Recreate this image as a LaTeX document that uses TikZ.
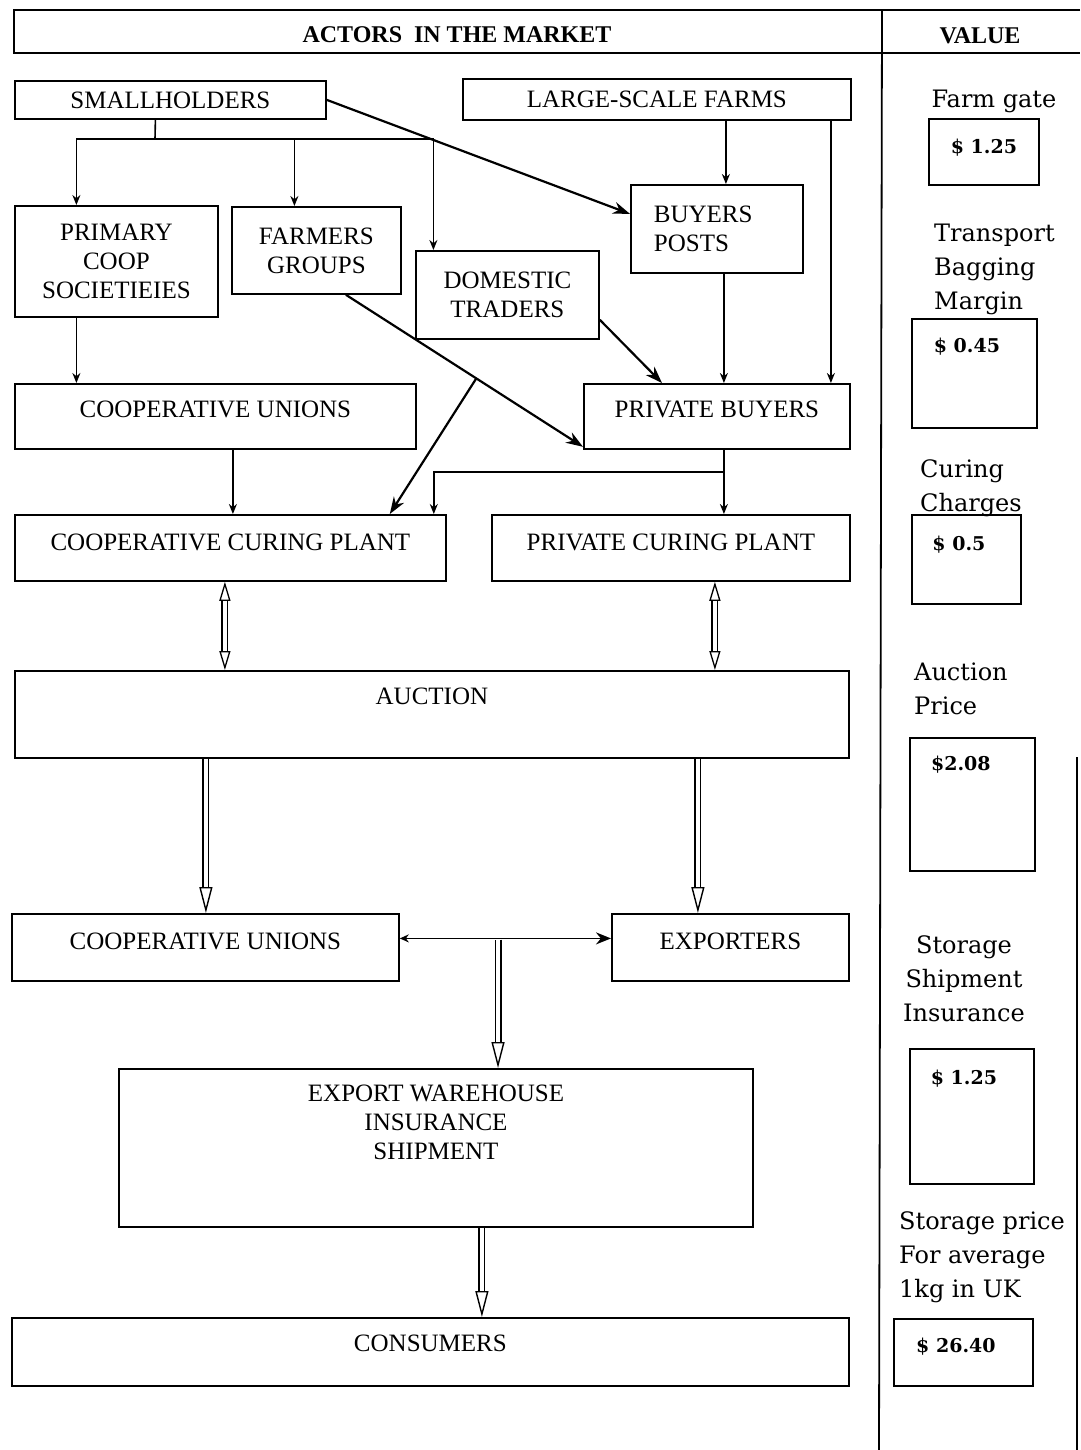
\documentclass[tikz,border=0pt]{standalone}
\usepackage{fontspec}
\setmainfont{Liberation Serif}
\newfontfamily\valfont{DejaVu Serif}
\usetikzlibrary{arrows.meta,positioning}

% hollow arrows drawn as a double shaft plus an open head
\newcommand{\fatarrow}[2]{%
  \draw[shaft] (#1) -- ([yshift=25pt]#1 |- #2);
  \draw[fathead] ([yshift=26pt]#1 |- #2) -- (#1 |- #2);}
\newcommand{\fatboth}[2]{%
  \draw[shaft] ([yshift=-18pt]#1) -- ([yshift=18pt]#1 |- #2);
  \draw[smallhead] ([yshift=-19pt]#1) -- (#1);
  \draw[smallhead] ([yshift=19pt]#1 |- #2) -- (#1 |- #2);}

\begin{document}
\begin{tikzpicture}[x=1pt, y=-1pt,
    actor/.style = {draw, rectangle, line width=1.8pt, anchor=north west, inner sep=0pt, font=\fontsize{25}{29}\selectfont},
    valbox/.style = {draw, rectangle, line width=1.8pt, anchor=north west, inner sep=0pt, font=\valfont\bfseries\fontsize{19}{22}\selectfont},
    vlabel/.style = {inner sep=0pt, font=\valfont\fontsize{24}{34}\selectfont},
    head/.style = {inner sep=0pt, font=\bfseries\fontsize{24}{28}\selectfont},
    frame/.style = {line width=1.8pt},
    line/.style = {line width=1.6pt},
    arrow/.style = {line width=1.6pt, -{Stealth[length=10pt, width=8pt]}},
    bold/.style = {line width=2.2pt, -{Stealth[length=17pt, width=12pt]}},
    twoway/.style = {line width=1.8pt, {Stealth[length=9pt, width=8pt]}-{Stealth[length=15pt, width=12pt]}},
    shaft/.style = {double, double distance=4pt, line width=1.5pt},
    fathead/.style = {line width=1.4pt, -{Triangle[open, length=26pt, width=13pt]}},
    smallhead/.style = {line width=1.3pt, -{Triangle[open, length=19pt, width=11pt]}}
]
\useasboundingbox (0,0) rectangle (1080,1450);

% Table frame
\draw[frame] (1080,10) -| (14,53) -- (1080,53);
\draw[frame] (882,10) -- (879,1450);
\draw[frame] (1077,757) -- (1077,1450);
\node[head] (hdract) at (457,35) {ACTORS~~IN THE MARKET};
\node[head] (hdrval) at (980,36) {VALUE};

% Nodes
\node[actor, minimum width=311pt, minimum height=38pt] (small) at (14,80) {SMALLHOLDERS};
\node[actor, minimum width=388pt, minimum height=41pt] (large) at (462,78) {LARGE-SCALE FARMS};
\node[actor, align=center, minimum width=203pt, minimum height=111pt] (primary) at (14,205) {PRIMARY\\COOP\\SOCIETIEIES};
\node[actor, align=center, minimum width=169pt, minimum height=87pt] (groups) at (231,206) {FARMERS\\GROUPS};
\node[actor, align=center, minimum width=183pt, minimum height=88pt] (traders) at (415,250) {DOMESTIC\\TRADERS};
\node[actor, align=left, text width=126pt, minimum width=172pt, minimum height=88pt] (posts) at (630,184) {BUYERS\\POSTS};
\node[actor, minimum width=401pt, text height=33.3pt, text depth=31.7pt] (unions) at (14,383) {COOPERATIVE UNIONS};
\node[actor, minimum width=266pt, text height=33.3pt, text depth=31.7pt] (pbuyers) at (583,383) {PRIVATE BUYERS};
\node[actor, minimum width=431pt, text height=35.3pt, text depth=30.7pt] (coopplant) at (14,514) {COOPERATIVE CURING PLANT};
\node[actor, minimum width=358pt, text height=35.3pt, text depth=30.7pt] (privplant) at (491,514) {PRIVATE CURING PLANT};
\node[actor, minimum width=834pt, text height=33.3pt, text depth=53.7pt] (auction) at (14,670) {AUCTION};
\node[actor, minimum width=387pt, text height=35.3pt, text depth=31.7pt] (unions2) at (11,913) {COOPERATIVE UNIONS};
\node[actor, minimum width=237pt, text height=35.3pt, text depth=31.7pt] (exporters) at (611,913) {EXPORTERS};
\node[actor, minimum width=634pt, minimum height=158pt] (warehouse) at (118,1068) {};
\node[actor, draw=none, align=center, anchor=center] (warehousetxt) at (436,1122) {EXPORT WAREHOUSE\\INSURANCE\\SHIPMENT};
\node[actor, minimum width=837pt, text height=33.3pt, text depth=34.7pt] (consumers) at (11,1317) {CONSUMERS};

% Value column
\node[vlabel] (farmgate) at (994,101) {Farm gate};
\node[valbox, minimum width=110pt, text height=35pt, text depth=31pt] (val1) at (928,118) {\$ 1.25};
\node[vlabel, anchor=west, align=left] (transport) at (934,269) {Transport\\Bagging\\Margin};
\node[valbox, minimum width=125pt, text height=34pt, text depth=75pt] (val2) at (911,318) {\$ 0.45\kern15pt};
\node[vlabel, anchor=west, align=left] (curing) at (920,488) {Curing\\Charges};
\node[valbox, minimum width=109pt, text height=36pt, text depth=53pt] (val3) at (911,514) {\$ 0.5\kern15pt};
\node[vlabel, anchor=west, align=left] (aucprice) at (914,689) {Auction\\Price};
\node[valbox, minimum width=125pt, text height=33pt, text depth=100pt] (val4) at (909,737) {\$2.08\kern23pt};
\node[vlabel, align=center] (storage) at (964,979) {Storage\\Shipment\\Insurance};
\node[valbox, minimum width=124pt, text height=36pt, text depth=99pt] (val5) at (909,1048) {\$ 1.25\kern16pt};
\node[vlabel, anchor=west, align=left] (ukprice) at (899,1257) {Storage price\\For average\\1kg in UK};
\node[valbox, minimum width=139pt, text height=34pt, text depth=33pt] (val6) at (893,1318) {\$ 26.40\kern15pt};

% Edges
\coordinate (fork) at (155,139);
\draw[line] ([xshift=-15pt]small.south) -- (fork);
\draw[arrow] (fork) -| ([xshift=-40pt]primary.north);
\draw[arrow] (fork) -| ([xshift=-22pt]groups.north);
\draw[arrow] (fork) -| ([xshift=-74pt]traders.north);
\draw[bold] (small.east) -- ([yshift=15pt]posts.west);
\draw[arrow] ([xshift=69pt]large.south) -- ([xshift=69pt]large.south |- posts.north);
\draw[arrow] ([xshift=174pt]large.south) -- ([xshift=174pt]large.south |- pbuyers.north);
\draw[arrow] ([xshift=7pt]posts.south) -- ([xshift=7pt]posts.south |- pbuyers.north);
\draw[bold] ([yshift=20pt]traders.south east) -- ([xshift=79pt]pbuyers.north west);
\draw[bold] ([xshift=29.5pt]groups.south) -- coordinate[pos=0.55] (branch) ([yshift=3pt]pbuyers.south west);
\draw[bold] (branch) -- ([xshift=-57pt]coopplant.north east);
\draw[arrow] ([xshift=-40pt]primary.south) -- ([xshift=-40pt]primary.south |- unions.north);
\draw[arrow] ([xshift=17.5pt]unions.south) -- ([xshift=17.5pt]unions.south |- coopplant.north);
\draw[line] ([xshift=7pt]pbuyers.south) -- ++(0,22) coordinate (pbfork);
\draw[arrow] (pbfork) -| ([xshift=-13pt]coopplant.north east);
\draw[arrow] (pbfork) -- (pbfork |- privplant.north);

\coordinate (c1) at ([xshift=-5.5pt]coopplant.south);
\coordinate (c2) at ([xshift=44pt]privplant.south);
\fatboth{c1}{auction.north}
\fatboth{c2}{auction.north}
\coordinate (a1) at ([xshift=-226pt]auction.south);
\coordinate (a2) at ([xshift=266pt]auction.south);
\fatarrow{a1}{unions2.north}
\fatarrow{a2}{exporters.north}
\draw[twoway] ([yshift=9pt]unions2.east) -- coordinate[pos=0.465] (split) ([yshift=9pt]exporters.west);
\coordinate (splitlow) at ([yshift=-1.2pt]split);
\fatarrow{splitlow}{warehouse.north}
\coordinate (w1) at ([xshift=46pt]warehouse.south);
\fatarrow{w1}{consumers.north}

\end{tikzpicture}
\end{document}
